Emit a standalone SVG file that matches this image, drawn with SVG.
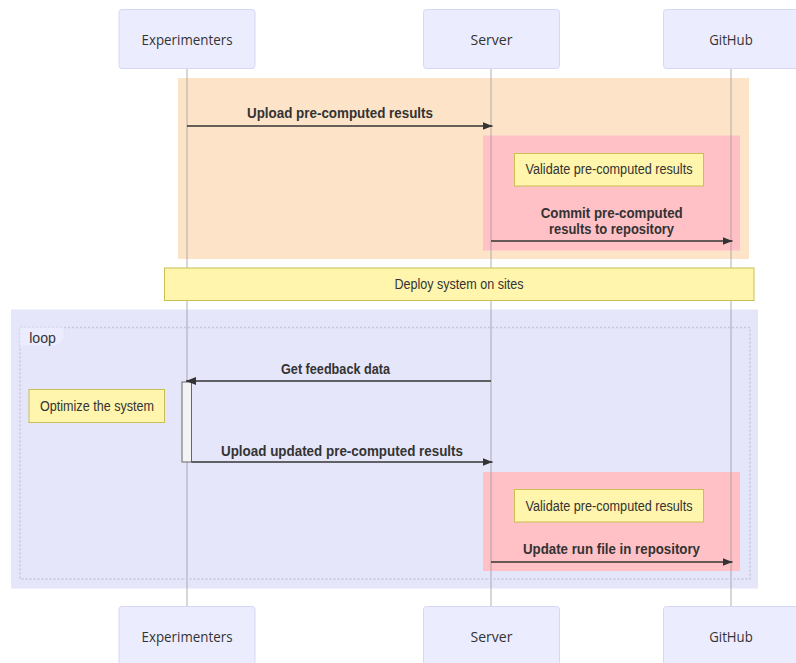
<svg xmlns="http://www.w3.org/2000/svg" width="796" height="663" viewBox="0 0 796 663">
<defs>
<style>
.actor{fill:#ececff;stroke:#d6d6f5;stroke-width:1}
.actorText{font-family:"Open Sans","Noto Sans",sans-serif;font-size:15px;fill:#333;text-anchor:middle}
.life{stroke:#999;stroke-width:0.8;fill:none}
.msg{stroke:#333;stroke-width:1.5;fill:none}
.msgText{font-family:"Liberation Sans",Arial,sans-serif;font-size:15.5px;font-weight:bold;fill:#333;text-anchor:middle}
.note{fill:#fff5ad;stroke:#c8c052;stroke-width:1}
.noteText{font-family:"Liberation Sans",Arial,sans-serif;font-size:14px;fill:#333;text-anchor:middle}
.loopBox{fill:none;stroke:#c8c8dc;stroke-width:1.5;stroke-dasharray:2,2}
</style>
<marker id="arrow" viewBox="0 0 10 8" refX="10" refY="4" markerWidth="10" markerHeight="8" markerUnits="userSpaceOnUse" orient="auto">
<path d="M0,0 L10,4 L0,8 z" fill="#333"/>
</marker>
</defs>
<rect width="796" height="663" fill="#ffffff"/>

<g id="background-rects">
<rect x="178" y="78" width="571" height="181" fill="#fde4c9"/>
<rect x="483" y="135.5" width="257" height="115" fill="#ffc1c6"/>
<rect x="11" y="309.5" width="747" height="279" fill="#e6e6fa"/>
<rect x="483" y="472" width="257" height="99" fill="#ffc1c6"/>
</g>

<g id="lifelines">
<line class="life" x1="187" y1="69" x2="187" y2="606"/>
<line class="life" x1="491" y1="69" x2="491" y2="606"/>
<line class="life" x1="731" y1="69" x2="731" y2="606"/>
</g>

<g id="loop">
<rect class="loopBox" x="20" y="327.5" width="730" height="251.5"/>
<polygon points="20,327.5 64,327.5 64,339 57,346 20,346" fill="#ececff" stroke="#e0e0f0" stroke-width="0.5"/>
<text x="42.5" y="343" class="noteText" textLength="26.7" lengthAdjust="spacingAndGlyphs">loop</text>
</g>

<g id="actor-experimenters-top">
<rect class="actor" x="119" y="9.5" width="136" height="59" rx="3"/>
<text class="actorText" x="187" y="44.5" textLength="91" lengthAdjust="spacingAndGlyphs">Experimenters</text>
</g>
<g id="actor-server-top">
<rect class="actor" x="423.5" y="9.5" width="136" height="59" rx="3"/>
<text class="actorText" x="491.5" y="44.5" textLength="42" lengthAdjust="spacingAndGlyphs">Server</text>
</g>
<g id="actor-github-top">
<rect class="actor" x="663.5" y="9.5" width="136" height="59" rx="3"/>
<text class="actorText" x="731" y="44.5" textLength="43.5" lengthAdjust="spacingAndGlyphs">GitHub</text>
</g>

<g id="note-validate-1">
<rect class="note" x="514.5" y="153.5" width="189" height="32.5"/>
<text class="noteText" x="609" y="174.3" textLength="167" lengthAdjust="spacingAndGlyphs">Validate pre-computed results</text>
</g>

<g id="note-deploy">
<rect class="note" x="164.5" y="268" width="589.5" height="32.5"/>
<text class="noteText" x="459" y="288.5" font-size="13.5" textLength="129" lengthAdjust="spacingAndGlyphs">Deploy system on sites</text>
</g>

<g id="note-optimize">
<rect class="note" x="29" y="389.5" width="135.5" height="33"/>
<text class="noteText" x="97" y="411" textLength="114" lengthAdjust="spacingAndGlyphs">Optimize the system</text>
</g>

<g id="activation-experimenters">
<rect x="182" y="382" width="9.5" height="80" fill="#f4f4f4" stroke="#666" stroke-width="1"/>
</g>

<g id="note-validate-2">
<rect class="note" x="514.5" y="489.5" width="189" height="32.5"/>
<text class="noteText" x="609" y="510.7" textLength="167" lengthAdjust="spacingAndGlyphs">Validate pre-computed results</text>
</g>

<g id="connectors">
<line class="msg" x1="187" y1="126" x2="492.5" y2="126" marker-end="url(#arrow)"/>
<line class="msg" x1="491" y1="241" x2="732.5" y2="241" marker-end="url(#arrow)"/>
<line class="msg" x1="491" y1="381" x2="186" y2="381" marker-end="url(#arrow)"/>
<line class="msg" x1="191.5" y1="462" x2="492.5" y2="462" marker-end="url(#arrow)"/>
<line class="msg" x1="491" y1="562" x2="732.5" y2="562" marker-end="url(#arrow)"/>
</g>

<g id="message-labels">
<text class="msgText" x="340" y="118.3" textLength="186" lengthAdjust="spacingAndGlyphs">Upload pre-computed results</text>
<text class="msgText" x="611.7" y="218" textLength="142" lengthAdjust="spacingAndGlyphs">Commit pre-computed</text>
<text class="msgText" x="611.5" y="233.5" textLength="125" lengthAdjust="spacingAndGlyphs">results to repository</text>
<text class="msgText" x="335.5" y="374" textLength="109" lengthAdjust="spacingAndGlyphs">Get feedback data</text>
<text class="msgText" x="342" y="455.7" textLength="242" lengthAdjust="spacingAndGlyphs">Upload updated pre-computed results</text>
<text class="msgText" x="611.5" y="554" textLength="177" lengthAdjust="spacingAndGlyphs">Update run file in repository</text>
</g>

<g id="actor-experimenters-bottom">
<rect class="actor" x="119" y="606.5" width="136" height="59" rx="3"/>
<text class="actorText" x="187" y="641.7" textLength="91" lengthAdjust="spacingAndGlyphs">Experimenters</text>
</g>
<g id="actor-server-bottom">
<rect class="actor" x="423.5" y="606.5" width="136" height="59" rx="3"/>
<text class="actorText" x="491.5" y="641.7" textLength="42" lengthAdjust="spacingAndGlyphs">Server</text>
</g>
<g id="actor-github-bottom">
<rect class="actor" x="663.5" y="606.5" width="136" height="59" rx="3"/>
<text class="actorText" x="731" y="641.7" textLength="43.5" lengthAdjust="spacingAndGlyphs">GitHub</text>
</g>
</svg>
